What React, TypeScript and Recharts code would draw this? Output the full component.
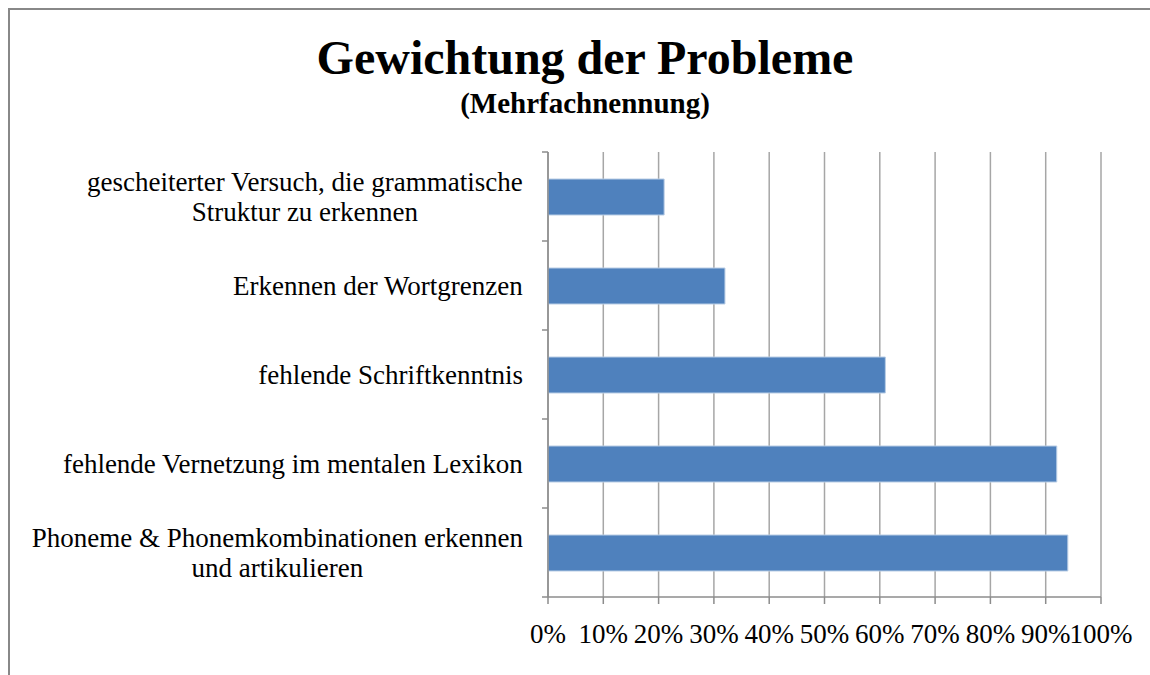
import { Bar, BarChart, CartesianGrid, XAxis, YAxis } from "recharts";

const categories = [
    ["gescheiterter Versuch, die grammatische", "Struktur zu erkennen"],
    ["Erkennen der Wortgrenzen"],
    ["fehlende Schriftkenntnis"],
    ["fehlende Vernetzung im mentalen Lexikon"],
    ["Phoneme & Phonemkombinationen erkennen", "und artikulieren"],
];
const shares = [21, 32, 61, 92, 94];
const xTicks = [0, 10, 20, 30, 40, 50, 60, 70, 80, 90, 100];

const data = categories.map((lines, i) => ({ label: lines.join("\n"), value: shares[i] }));

const W = 1142;
const H = 667;
const MARGIN = { top: 144, right: 49, left: 0, bottom: 0 };
const Y_WIDTH = 540;
const X_HEIGHT = 78;
const BAND = (H - MARGIN.top - MARGIN.bottom - X_HEIGHT) / categories.length;

const FONT = '"Liberation Serif", "Times New Roman", serif';
const LABEL_SIZE = 27;
const GRID = "#a6a6a6";
const AXIS = "#8c8c8c";

let ctx: CanvasRenderingContext2D | null = null;
function textWidth(s: string) {
    if (!ctx) ctx = document.createElement("canvas").getContext("2d");
    if (!ctx) return s.length * LABEL_SIZE * 0.45;
    ctx.font = `${LABEL_SIZE}px ${FONT}`;
    return ctx.measureText(s).width;
}

function CategoryTick(props: any) {
    const { x, y, payload, index } = props;
    const lines: string[] = String(payload.value).split("\n");
    const right = x - 17;
    const blockW = Math.max(...lines.map(textWidth));
    const cx = right - blockW / 2;
    const lh = 30;
    const first = y - ((lines.length - 1) * lh) / 2;
    const axisX = x + 8;
    return (
        <g>
            <line x1={axisX - 6} x2={axisX} y1={y - BAND / 2} y2={y - BAND / 2} stroke={AXIS} strokeWidth={1.5} />
            {index === categories.length - 1 && (
                <line x1={axisX - 6} x2={axisX} y1={y + BAND / 2} y2={y + BAND / 2} stroke={AXIS} strokeWidth={1.5} />
            )}
            {lines.map((ln, i) => (
                <text key={i} x={cx} y={first + i * lh} dy="0.35em" textAnchor="middle"
                    fontFamily={FONT} fontSize={LABEL_SIZE} fill="#000">
                    {ln}
                </text>
            ))}
        </g>
    );
}

function PercentTick(props: any) {
    const { x, y, payload } = props;
    return (
        <text x={x} y={y + 37} textAnchor="middle" fontFamily={FONT} fontSize={LABEL_SIZE} fill="#000">
            {`${payload.value}%`}
        </text>
    );
}

export default function App() {
    return (
        <div style={{ position: "relative", width: W, height: H, marginLeft: 8, marginTop: 8 }}>
            <style>{"body{margin:0;overflow:hidden}"}</style>
            <BarChart width={W} height={H} data={data} layout="vertical" margin={MARGIN} barSize={36}>
                <CartesianGrid horizontal={false} stroke={GRID} strokeWidth={1.5} />
                <XAxis type="number" domain={[0, 100]} ticks={xTicks} interval={0} height={X_HEIGHT}
                    stroke={AXIS} strokeWidth={1.5} tickSize={7} tick={<PercentTick />} />
                <YAxis type="category" dataKey="label" width={Y_WIDTH} stroke={AXIS} strokeWidth={1.5}
                    tickLine={false} interval={0} tick={<CategoryTick />} />
                <Bar dataKey="value" fill="#4f81bd" stroke="#b9cde5" strokeWidth={1} isAnimationActive={false} />
            </BarChart>
            <svg width={W} height={H} style={{ position: "absolute", left: 0, top: 0, pointerEvents: "none" }}>
                <text x={577} y={66} textAnchor="middle" fontFamily={FONT} fontWeight="bold" fontSize={48} fill="#000">
                    Gewichtung der Probleme
                </text>
                <text x={577} y={105} textAnchor="middle" fontFamily={FONT} fontWeight="bold" fontSize={29} fill="#000">
                    (Mehrfachnennung)
                </text>
            </svg>
            <div style={{
                position: "absolute", left: 0, top: 0, right: 0, bottom: 0,
                borderTop: "2px solid #888", borderLeft: "2px solid #888", pointerEvents: "none",
            }} />
        </div>
    );
}
